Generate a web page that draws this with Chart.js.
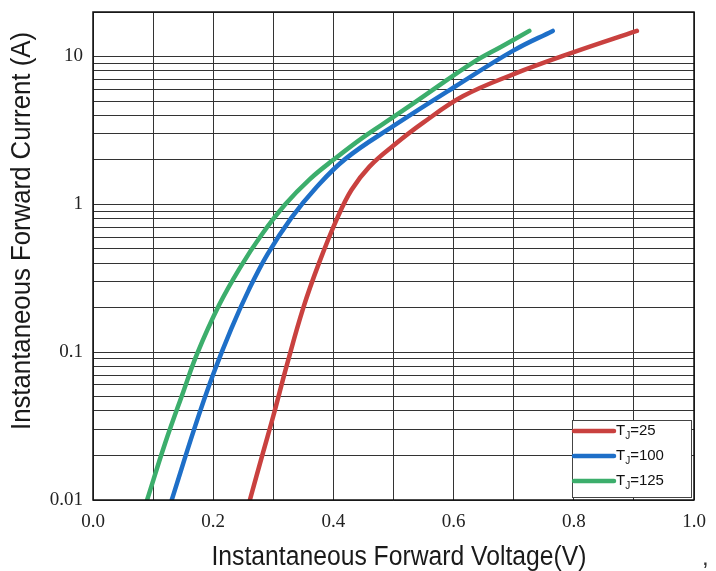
<!DOCTYPE html>
<html>
<head>
<meta charset="utf-8">
<script src="https://cdn.jsdelivr.net/npm/chart.js@4.4.1/dist/chart.umd.min.js"></script>
<style>
  html, body { margin: 0; padding: 0; background: #fff; }
  #wrap { width: 716px; height: 571px; }
</style>
</head>
<body>
<div id="wrap"><canvas id="myChart" width="716" height="571"></canvas></div>
<script>
// datos (V, A)
const seriesNames = ['25', '100', '125'];
const seriesColors = ['rgb(201, 65, 63)', 'rgb(30, 111, 200)', 'rgb(60, 174, 108)'];

const v25 = [0.261, 0.283, 0.30, 0.323, 0.35, 0.376, 0.406, 0.43, 0.46, 0.50, 0.55, 0.616, 0.70, 0.80, 0.905];
const i25 = [0.01, 0.021, 0.037, 0.083, 0.20, 0.40, 0.8, 1.25, 1.8, 2.5, 3.58, 5.4, 7.6, 10.7, 14.9];

const v100 = [0.131, 0.17, 0.20, 0.23, 0.26, 0.29, 0.33, 0.37, 0.42, 0.50, 0.60, 0.70, 0.765];
const i100 = [0.01, 0.0316, 0.0708, 0.144, 0.268, 0.457, 0.81, 1.28, 2.03, 3.39, 6.17, 11.0, 14.9];

const v125 = [0.09, 0.12, 0.15, 0.173, 0.21, 0.245, 0.28, 0.32, 0.36, 0.40, 0.45, 0.50, 0.56, 0.632, 0.68, 0.726];
const i125 = [0.01, 0.0242, 0.0536, 0.097, 0.209, 0.375, 0.618, 1.0, 1.47, 2.0, 2.85, 3.9, 5.74, 9.1, 11.7, 14.9];

const yDecades = [0.01, 0.1, 1, 10];
const yTickLabels = ['0.01', '0.1', '1', '10'];
const xTickLabels = ['0.0', '0.2', '0.4', '0.6', '0.8', '1.0'];

const xTitle = 'Instantaneous Forward Voltage(V)';
const yTitle = 'Instantaneous Forward Current (A)';

function puntos(xs, ys) {
  return xs.map((x, k) => ({ x: x, y: ys[k] }));
}

const allV = [v25, v100, v125];
const allI = [i25, i100, i125];

// texto ajustado a un ancho dado
function textoAncho(c, txt, cx, cy, ancho) {
  const w = c.measureText(txt).width;
  c.save();
  c.translate(cx, cy);
  c.scale(ancho / w, 1);
  c.fillText(txt, 0, 0);
  c.restore();
}

// titulos y leyenda propia (con subindice J)
const extras = {
  id: 'extras',
  afterDraw(chart) {
    const c = chart.ctx;
    const a = chart.chartArea;
    c.save();
    // borde
    c.strokeStyle = '#111';
    c.lineWidth = 1.5;
    c.strokeRect(a.left, a.top, a.right - a.left, a.bottom - a.top);

    c.fillStyle = '#1a1a1a';
    c.font = '27px "Liberation Sans", Arial, sans-serif';
    c.textAlign = 'center';
    c.textBaseline = 'alphabetic';
    textoAncho(c, xTitle, 399, 565, 375);
    c.translate(30, 231);
    c.rotate(-Math.PI / 2);
    textoAncho(c, yTitle, 0, 0, 398);
    c.restore();

    // leyenda
    c.save();
    const lx = 572, ly = 420, lw = 119, lh = 77;
    c.fillStyle = '#fff';
    c.fillRect(lx, ly, lw, lh);
    c.strokeStyle = '#444';
    c.lineWidth = 1;
    c.strokeRect(lx + 0.5, ly + 0.5, lw, lh);
    seriesNames.forEach((n, k) => {
      const yy = ly + 11 + k * 25;
      c.strokeStyle = seriesColors[k];
      c.lineWidth = 4.5;
      c.lineCap = 'round';
      c.beginPath();
      c.moveTo(lx + 2, yy);
      c.lineTo(lx + 42, yy);
      c.stroke();
      c.fillStyle = '#111';
      c.textBaseline = 'middle';
      c.textAlign = 'left';
      c.font = '15px "Liberation Sans", Arial, sans-serif';
      c.fillText('T', lx + 44, yy);
      const tw = c.measureText('T').width;
      c.font = '10px "Liberation Sans", Arial, sans-serif';
      c.fillText('J', lx + 44 + tw, yy + 5);
      const jw = c.measureText('J').width;
      c.font = '15px "Liberation Sans", Arial, sans-serif';
      c.fillText('=' + n, lx + 44 + tw + jw, yy);
    });
    c.fillStyle = '#333';
    c.font = '24px "Liberation Sans", Arial, sans-serif';
    c.fillText(',', 702, 558);
    c.restore();
  }
};

const ctx = document.getElementById('myChart');
new Chart(ctx, {
  type: 'scatter',
  data: {
    datasets: seriesNames.map((n, k) => ({
      label: 'TJ=' + n,
      data: puntos(allV[k], allI[k]),
      showLine: true,
      borderColor: seriesColors[k],
      backgroundColor: seriesColors[k],
      borderWidth: 4.5,
      pointRadius: 0,
      borderCapStyle: 'round',
      tension: 0.4,
      fill: false
    }))
  },
  options: {
    responsive: false,
    animation: false,
    layout: { padding: { left: 0, top: 12, right: 22, bottom: 0 } },
    scales: {
      x: {
        type: 'linear',
        min: 0,
        max: 1,
        afterFit: s => { s.height = 71; s.paddingLeft = 0; s.paddingRight = 0; },
        afterBuildTicks: s => {
          s.ticks = [];
          for (let k = 0; k <= 10; k++) s.ticks.push({ value: k / 10 });
        },
        ticks: {
          autoSkip: false,
          maxRotation: 0,
          padding: 11,
          color: '#222',
          font: { family: '"Liberation Serif", "DejaVu Serif", serif', size: 19 },
          callback: function(value) {
            const k = Math.round(value * 10);
            return k % 2 === 0 ? xTickLabels[k / 2] : '';
          }
        },
        grid: { color: '#333', lineWidth: 1, drawTicks: false },
        border: { display: false }
      },
      y: {
        type: 'logarithmic',
        min: 0.01,
        max: 20,
        afterFit: s => { s.width = 93; s.paddingTop = 0; s.paddingBottom = 0; },
        afterBuildTicks: s => {
          s.ticks = [];
          yDecades.forEach(d => {
            for (let m = 1; m <= 9; m++) s.ticks.push({ value: d * m });
          });
          s.ticks.push({ value: 20 });
        },
        ticks: {
          autoSkip: false,
          padding: 10,
          color: '#222',
          font: { family: '"Liberation Serif", "DejaVu Serif", serif', size: 19 },
          callback: function(value) {
            const k = yDecades.findIndex(d => Math.abs(value - d) < d * 1e-6);
            return k >= 0 ? yTickLabels[k] : '';
          }
        },
        grid: { color: '#333', lineWidth: 1, drawTicks: false },
        border: { display: false }
      }
    },
    plugins: {
      legend: { display: false },
      tooltip: { enabled: false }
    }
  },
  plugins: [extras]
});
</script>
</body>
</html>
